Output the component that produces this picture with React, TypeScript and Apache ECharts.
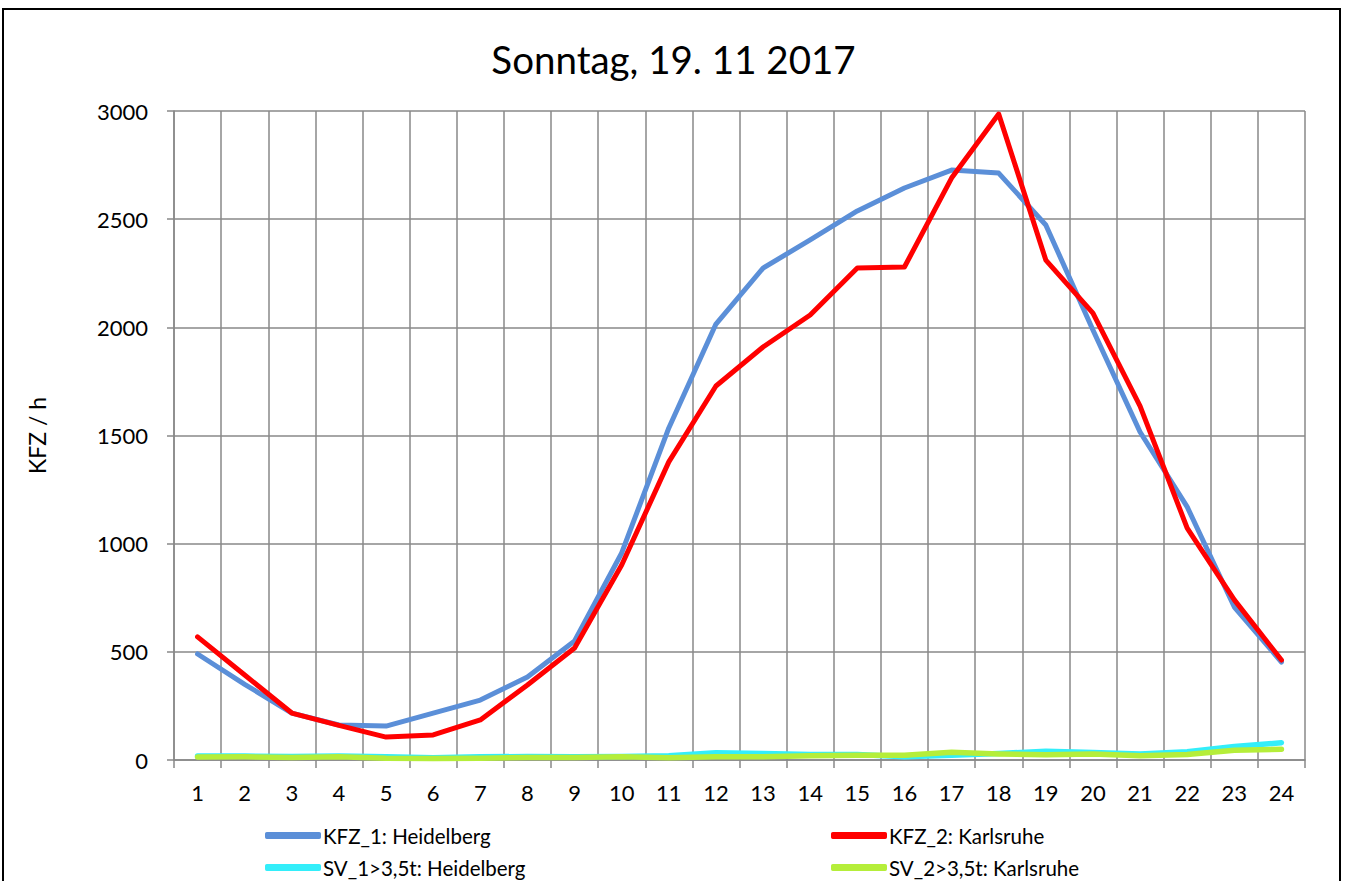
import React, { useEffect, useRef } from "react";
import * as echarts from "echarts";

const hours = ["1","2","3","4","5","6","7","8","9","10","11","12","13","14","15","16","17","18","19","20","21","22","23","24"];
const kfz1 = [490, 350, 217, 162, 157, 217, 277, 384, 550, 957, 1535, 2015, 2274, 2404, 2538, 2644, 2727, 2713, 2473, 1988, 1516, 1170, 707, 453];
const kfz2 = [569, 393, 217, 160, 106, 116, 185, 347, 518, 901, 1378, 1729, 1909, 2057, 2274, 2279, 2690, 2986, 2311, 2066, 1636, 1072, 740, 462];
const sv1 = [18, 18, 16, 18, 15, 10, 15, 16, 15, 16, 20, 33, 30, 25, 25, 15, 22, 30, 40, 35, 28, 38, 62, 80];
const sv2 = [14, 15, 12, 15, 8, 7, 8, 12, 12, 15, 10, 15, 15, 20, 22, 22, 36, 28, 24, 28, 20, 25, 45, 50];
const names = ["KFZ_1: Heidelberg", "KFZ_2: Karlsruhe", "SV_1>3,5t: Heidelberg", "SV_2>3,5t: Karlsruhe"];
const colors = ["#5B8FD8", "#FF0000", "#33EEFA", "#B5EE3A"];
const widths = [5, 5, 5.5, 5.5];
const yTicks = { min: 0, max: 3000, interval: 500 };

const FONT = "Lato";

export default function App() {
  const ref = useRef<HTMLDivElement>(null);
  useEffect(() => {
    if (!ref.current) return;
    const chart = echarts.init(ref.current, null, { renderer: "svg" });
    const data = [kfz1, kfz2, sv1, sv2];
    const legendPos = [
      { left: 265, top: 825 },
      { left: 831, top: 825 },
      { left: 265, top: 857 },
      { left: 831, top: 857 },
    ];
    chart.setOption({
      animation: false,
      backgroundColor: "#fff",
      title: {
        text: "Sonntag, 19. 11 2017",
        left: "center",
        top: 34,
        textStyle: { fontFamily: FONT, fontSize: 38.5, fontWeight: "normal", color: "#000" },
      },
      graphic: [
        {
          type: "rect",
          shape: { x: 3, y: 9, width: 1337, height: 900 },
          style: { fill: "none", stroke: "#000", lineWidth: 2 },
          z: 100,
        },
      ],
      legend: names.map((n, i) => ({
        data: [n],
        left: legendPos[i].left,
        top: legendPos[i].top,
        icon: "roundRect",
        itemWidth: 56,
        itemHeight: 7,
        itemGap: 0,
        padding: 0,
        textStyle: { fontFamily: FONT, fontSize: 20.5, color: "#000", padding: [0, 0, 0, -3] },
      })),
      grid: { left: 174, right: 42, top: 111, bottom: 121, containLabel: false },
      xAxis: {
        type: "category",
        data: hours,
        boundaryGap: true,
        axisLine: { lineStyle: { color: "#888", width: 1.5 } },
        axisTick: { show: true, length: 8, lineStyle: { color: "#888", width: 1.5 } },
        axisLabel: { fontFamily: FONT, fontSize: 22, color: "#000", margin: 21 },
        splitLine: { show: true, lineStyle: { color: "#888", width: 1.5 } },
      },
      yAxis: {
        type: "value",
        min: yTicks.min,
        max: yTicks.max,
        interval: yTicks.interval,
        name: "KFZ / h",
        nameLocation: "middle",
        nameGap: 126,
        nameRotate: 90,
        nameTextStyle: { fontFamily: FONT, fontSize: 23, color: "#000" },
        axisLine: { show: true, lineStyle: { color: "#888", width: 1.5 } },
        axisTick: { show: true, length: 7, lineStyle: { color: "#888", width: 1.5 } },
        axisLabel: {
          fontFamily: FONT,
          fontSize: 22,
          color: "#000",
          margin: 26,
          formatter: (v: number) => String(v),
        },
        splitLine: { show: true, lineStyle: { color: "#888", width: 1.5 } },
      },
      series: data.map((d, i) => ({
        name: names[i],
        type: "line",
        data: d,
        showSymbol: false,
        symbol: "none",
        lineStyle: { color: colors[i], width: widths[i], cap: "round", join: "round" },
        itemStyle: { color: colors[i] },
        z: 2 + i,
      })),
    });
    return () => chart.dispose();
  }, []);
  return (
    <div
      ref={ref}
      style={{ position: "fixed", left: 0, top: 0, width: 1347, height: 881, background: "#fff" }}
    />
  );
}
